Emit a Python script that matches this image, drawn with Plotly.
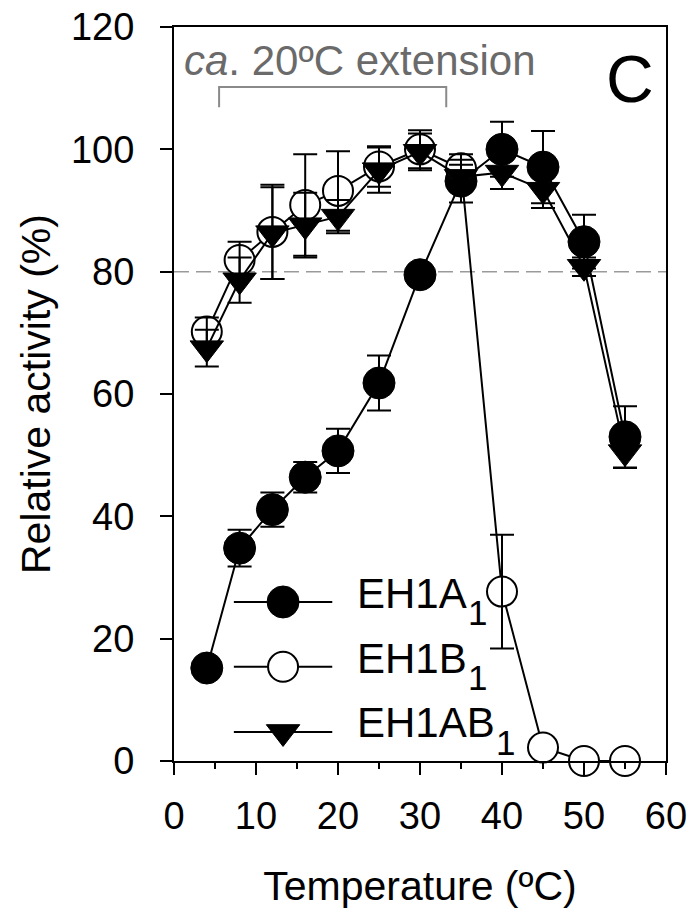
import plotly.graph_objects as go

# ---------------- data ----------------
temps = [4, 8, 12, 16, 20, 25, 30, 35, 40, 45, 50, 55]

eh1a = [15.2, 34.8, 41.1, 46.4, 50.7, 61.8, 79.5, 94.8, 100.0, 97.1, 84.9, 53.0]
eh1a_err = [1.0, 3.0, 2.8, 2.5, 3.6, 4.5, 1.5, 3.5, 4.5, 5.9, 4.4, 5.0]

eh1b = [70.2, 81.9, 86.5, 90.9, 93.2, 97.2, 100.0, 96.9, 27.7, 2.2, 0.0, 0.0]
eh1b_err = [2.3, 3.0, 7.7, 8.3, 6.5, 3.3, 3.1, 2.3, 9.3, None, None, None]

eh1ab = [67.5, 78.6, 86.3, 87.6, 89.0, 96.6, 99.6, 95.5, 96.2, 93.4, 80.8, 50.5]
eh1ab_err = [3.0, 3.7, 7.5, 5.3, 2.7, 3.7, 3.0, 2.0, 2.7, 3.0, 1.5, 2.6]

series_names = ["EH1A", "EH1B", "EH1AB"]
x_ticks = [0, 10, 20, 30, 40, 50, 60]
y_ticks = [0, 20, 40, 60, 80, 100, 120]
threshold = 80
bracket_x = [5.5, 33.2]
bracket_y = [106.9, 110.2]
annot_text = "<i>ca</i>. 20ºC extension"
panel_label = "C"

FONT = "Liberation Sans, Arial, sans-serif"

styles = [
    dict(symbol="circle", size=32, color="black", line=dict(color="black", width=1)),
    dict(symbol="circle", size=30, color="white", line=dict(color="black", width=2)),
    dict(symbol="triangle-down", size=29, color="black", line=dict(color="black", width=1)),
]
values = [eh1a, eh1b, eh1ab]
errors = [eh1a_err, eh1b_err, eh1ab_err]

fig = go.Figure()

# lines + markers
for name, vals, st in zip(series_names, values, styles):
    fig.add_trace(go.Scatter(
        x=temps, y=vals, mode="lines+markers", name=name,
        line=dict(color="black", width=2),
        marker=st, cliponaxis=False, showlegend=False,
    ))

# error bars drawn on top (as in the original); only points with a bar
for name, vals, err in zip(series_names, values, errors):
    keep = [i for i, e in enumerate(err) if e is not None]
    fig.add_trace(go.Scatter(
        x=[temps[i] for i in keep], y=[vals[i] for i in keep], mode="markers",
        marker=dict(size=2, color="rgba(0,0,0,0)"),
        error_y=dict(type="data", array=[err[i] for i in keep], symmetric=True,
                     color="black", thickness=2, width=12),
        cliponaxis=False, showlegend=False, hoverinfo="skip",
    ))

# ---------------- manual legend ----------------
leg_line_x = [7.3, 19.3]
leg_marker_x = 13.3
leg_rows_y = [26.0, 15.4, 4.75]
leg_text_x = 22.1
leg_text_y = [27.4, 16.8, 6.25]
sub_y = [24.2, 13.7, 3.1]
widths = {"E": 0.667, "H": 0.722, "1": 0.556, "A": 0.667, "B": 0.667}
for name, st, ly, ty, sy in zip(series_names, styles, leg_rows_y, leg_text_y, sub_y):
    fig.add_trace(go.Scatter(
        x=leg_line_x, y=[ly, ly], mode="lines",
        line=dict(color="black", width=2), showlegend=False,
        hoverinfo="skip", cliponaxis=False,
    ))
    fig.add_trace(go.Scatter(
        x=[leg_marker_x], y=[ly], mode="markers", marker=st,
        showlegend=False, hoverinfo="skip", cliponaxis=False,
    ))
    fig.add_annotation(
        x=leg_text_x, y=ty, xref="x", yref="y", text=name, showarrow=False,
        xanchor="left", yanchor="middle",
        font=dict(family=FONT, size=42, color="black"),
    )
    # subscript "1"
    w = sum(widths[c] for c in name) * 42
    fig.add_annotation(
        x=leg_text_x, y=sy, xref="x", yref="y", text="1", showarrow=False,
        xanchor="left", yanchor="middle", xshift=w + 1,
        font=dict(family=FONT, size=35, color="black"),
    )

# ---------------- shapes ----------------
fig.add_shape(type="line", xref="paper", yref="y", x0=0, x1=1,
              y0=threshold, y1=threshold, layer="below",
              line=dict(color="#9a9a9a", width=1.5, dash="15px,7px"))
fig.add_shape(type="path", xref="x", yref="y",
              path=(f"M {bracket_x[0]},{bracket_y[0]} L {bracket_x[0]},{bracket_y[1]} "
                    f"L {bracket_x[1]},{bracket_y[1]} L {bracket_x[1]},{bracket_y[0]}"),
              line=dict(color="#8a8a8a", width=2))

fig.add_annotation(x=1.0, y=114.5, xref="x", yref="y", text=annot_text,
                   showarrow=False, xanchor="left", yanchor="middle",
                   font=dict(family=FONT, size=42, color="#6a6a6a"))
fig.add_annotation(x=55.6, y=111.5, xref="x", yref="y", text=panel_label,
                   showarrow=False, xanchor="center", yanchor="middle",
                   font=dict(family=FONT, size=66, color="black"))

# ---------------- axes ----------------
fig.update_layout(
    width=694, height=912,
    margin=dict(l=174, r=28, t=27, b=151, autoexpand=False),
    plot_bgcolor="white", paper_bgcolor="white",
    font=dict(family=FONT, size=38, color="black"),
    showlegend=False,
)
fig.update_xaxes(
    range=[0, 60], tickvals=x_ticks, ticktext=[str(v) for v in x_ticks],
    ticks="outside", ticklen=12, tickwidth=2, tickcolor="black",
    showline=True, linewidth=2, linecolor="black", mirror=True,
    showgrid=False, zeroline=False, automargin=False,
    tickfont=dict(family=FONT, size=38, color="black"),
    ticklabelstandoff=8,
    minor=dict(dtick=5, tick0=0, ticklen=6, tickwidth=2, ticks="outside",
               tickcolor="black", showgrid=False),
    title=dict(text="Temperature (ºC)", font=dict(family=FONT, size=41, color="black"),
               standoff=36),
)
fig.update_yaxes(
    range=[0, 120], tickvals=y_ticks, ticktext=[str(v) for v in y_ticks],
    ticks="outside", ticklen=12, tickwidth=2, tickcolor="black",
    showline=True, linewidth=2, linecolor="black", mirror=True,
    showgrid=False, zeroline=False, automargin=False,
    tickfont=dict(family=FONT, size=38, color="black"),
    ticklabelstandoff=18,
    title=dict(text="Relative activity (%)", font=dict(family=FONT, size=41, color="black"),
               standoff=8),
)

fig.write_html("out.html")
